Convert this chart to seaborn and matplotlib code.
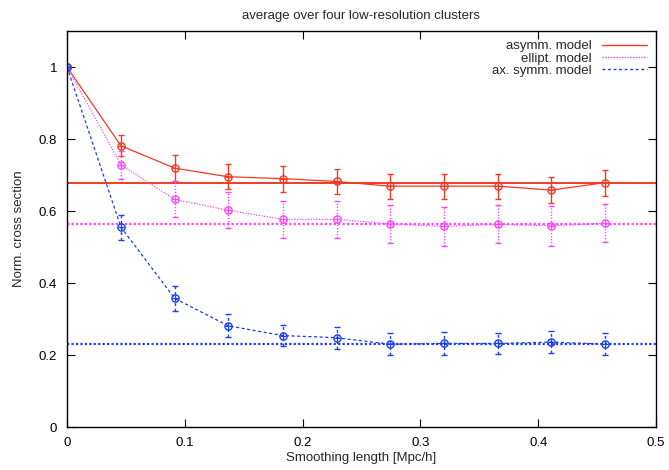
import matplotlib
matplotlib.use("Agg")
import matplotlib.pyplot as plt
import seaborn as sns
import numpy as np
import pandas as pd
from matplotlib.lines import Line2D

# ---- data ----
smoothing = [0.0, 0.0458, 0.0915, 0.137, 0.183, 0.229, 0.274, 0.32, 0.366, 0.411, 0.457]
asymm_vals = [1.0, 0.781, 0.719, 0.695, 0.690, 0.682, 0.669, 0.669, 0.669, 0.658, 0.679]
asymm_err = [0.0, 0.029, 0.036, 0.035, 0.036, 0.035, 0.035, 0.035, 0.035, 0.036, 0.036]
ellipt_vals = [1.0, 0.728, 0.632, 0.602, 0.577, 0.577, 0.564, 0.557, 0.563, 0.559, 0.566]
ellipt_err = [0.0, 0.040, 0.050, 0.050, 0.051, 0.052, 0.053, 0.055, 0.053, 0.055, 0.053]
axsymm_vals = [1.0, 0.555, 0.357, 0.281, 0.254, 0.248, 0.230, 0.232, 0.232, 0.236, 0.230]
axsymm_err = [0.0, 0.035, 0.034, 0.032, 0.029, 0.030, 0.031, 0.031, 0.030, 0.031, 0.031]
asymm_level = 0.678
ellipt_level = 0.564
axsymm_level = 0.230

series_names = ["asymm. model", "ellipt. model", "ax. symm. model"]
x_ticks = [0, 0.1, 0.2, 0.3, 0.4, 0.5]
x_tick_labels = ["0", "0.1", "0.2", "0.3", "0.4", "0.5"]
y_ticks = [0, 0.2, 0.4, 0.6, 0.8, 1.0]
y_tick_labels = ["0", "0.2", "0.4", "0.6", "0.8", "1"]

sns.set_style("ticks")
plt.rcParams["font.family"] = ["Liberation Sans", "DejaVu Sans"]

fig = plt.figure(figsize=(6.69, 4.70), dpi=100)
ax = fig.add_axes([67 / 669, 1 - 427 / 470, (656 - 67) / 669, (427 - 31) / 470])

red = "#f03a26"
mag = "#ff44ff"
blue = "#1a3cf0"

df = pd.DataFrame({
    "x": smoothing * 3,
    "y": asymm_vals + ellipt_vals + axsymm_vals,
    "model": [series_names[0]] * len(smoothing) + [series_names[1]] * len(smoothing)
             + [series_names[2]] * len(smoothing),
})

styles = {
    series_names[0]: dict(color=red, ls="-", level=asymm_level, err=asymm_err, vals=asymm_vals,
                          hls="-", hlw=1.4, els="-"),
    series_names[1]: dict(color=mag, ls=(0, (1, 1.2)), level=ellipt_level, err=ellipt_err,
                          vals=ellipt_vals, hls=(0, (1, 1)), hlw=1.6, els=(0, (1, 1.2))),
    series_names[2]: dict(color=blue, ls=(0, (2.5, 2)), level=axsymm_level, err=axsymm_err,
                          vals=axsymm_vals, hls=(0, (1, 1)), hlw=1.6, els=(0, (2, 2))),
}

for name in series_names:
    st = styles[name]
    sub = df[df["model"] == name]
    sns.lineplot(data=sub, x="x", y="y", ax=ax, color=st["color"], linestyle=st["ls"],
                 linewidth=0.9, label=name, legend=False)
    eb = ax.errorbar(smoothing, st["vals"], yerr=st["err"], fmt="none", ecolor=st["color"],
                     elinewidth=1.0, capsize=2.5, capthick=1.0)
    for c in eb[2]:
        c.set_linestyle(st["els"])
    ax.plot(smoothing, st["vals"], "o", mfc="none", mec=st["color"], ms=5.2, mew=1.0,
            linestyle="none")
    ax.plot(smoothing, st["vals"], "+", color=st["color"], ms=4.5, mew=0.8, linestyle="none")
    ax.axhline(st["level"], color=st["color"], linestyle=st["hls"], linewidth=st["hlw"])

ax.set_xlim(0, 0.5)
ax.set_ylim(0, 1.1)
ax.set_xticks(x_ticks)
ax.set_xticklabels(x_tick_labels)
ax.set_yticks(y_ticks)
ax.set_yticklabels(y_tick_labels)
ax.tick_params(direction="in", top=True, right=True, length=6, width=0.8, labelsize=9.5,
               colors="black", pad=7)
for sp in ax.spines.values():
    sp.set_color("black")
    sp.set_linewidth(1.0)

ax.set_xlabel("Smoothing length [Mpc/h]", fontsize=9.5, labelpad=2)
ax.set_ylabel("Norm. cross section", fontsize=9.5, labelpad=10)
ax.set_title("average over four low-resolution clusters", fontsize=9.5, pad=9)

handles = [Line2D([], [], color=red, ls="-", lw=1.0),
           Line2D([], [], color=mag, ls=(0, (1, 1)), lw=1.0),
           Line2D([], [], color=blue, ls=(0, (2, 2)), lw=1.0)]
leg = ax.legend(handles, series_names, loc="upper right", frameon=False, markerfirst=False,
                fontsize=9.5, handlelength=3.4, labelspacing=0.0, borderaxespad=0.3,
                handletextpad=0.8)

fig.savefig("out.png", dpi=100)
